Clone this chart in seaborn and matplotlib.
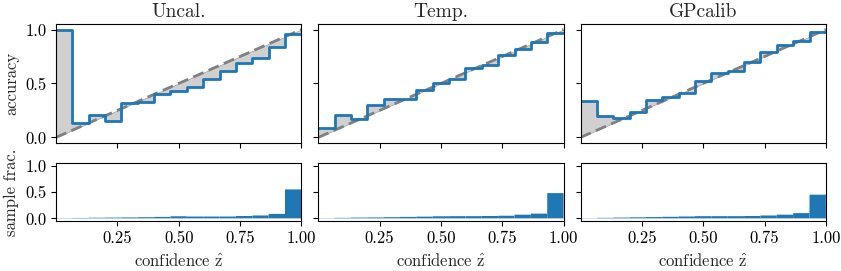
import matplotlib
matplotlib.use("Agg")
import matplotlib.pyplot as plt
import seaborn as sns
import numpy as np
import pandas as pd

# 15 equal-width confidence bins
bin_edges = np.linspace(0, 1, 16)
methods = ["Uncal.", "Temp.", "GPcalib"]

# accuracy per bin
acc_uncal = [1.00, 0.13, 0.21, 0.15, 0.32, 0.33, 0.40, 0.43, 0.47, 0.54, 0.62, 0.69, 0.74, 0.84, 0.96]
acc_temp = [0.09, 0.21, 0.175, 0.30, 0.36, 0.355, 0.44, 0.50, 0.54, 0.64, 0.67, 0.76, 0.82, 0.88, 0.97]
acc_gp = [0.335, 0.195, 0.18, 0.235, 0.35, 0.37, 0.41, 0.52, 0.595, 0.62, 0.70, 0.79, 0.855, 0.895, 0.98]

# fraction of samples per bin
frac_uncal = [0.004, 0.008, 0.012, 0.015, 0.018, 0.022, 0.028, 0.04, 0.035, 0.035, 0.035, 0.045, 0.055, 0.085, 0.55]
frac_temp = [0.004, 0.01, 0.015, 0.018, 0.022, 0.028, 0.033, 0.04, 0.042, 0.042, 0.045, 0.05, 0.07, 0.09, 0.48]
frac_gp = [0.004, 0.01, 0.015, 0.02, 0.025, 0.03, 0.036, 0.042, 0.042, 0.042, 0.045, 0.055, 0.07, 0.1, 0.45]

accs = [acc_uncal, acc_temp, acc_gp]
fracs = [frac_uncal, frac_temp, frac_gp]

sns.set_style("ticks")
plt.rcParams["font.family"] = ["cmr10", "DejaVu Serif"]
plt.rcParams["mathtext.fontset"] = "cm"
plt.rcParams["axes.formatter.use_mathtext"] = True
plt.rcParams["font.size"] = 12
plt.rcParams["axes.edgecolor"] = "black"
plt.rcParams["xtick.color"] = "black"
plt.rcParams["ytick.color"] = "black"

fig, axes = plt.subplots(2, 3, figsize=(8.41, 2.71), dpi=100, sharex=True, sharey="row",
                         gridspec_kw=dict(height_ratios=[2.05, 1], left=0.0666, right=0.982,
                                          top=0.911, bottom=0.1845, wspace=0.069, hspace=0.23))

centers = (bin_edges[:-1] + bin_edges[1:]) / 2
blue = "#1f77b4"

for j, name in enumerate(methods):
    ax = axes[0, j]
    acc = np.array(accs[j])
    # gap between bin accuracy and the diagonal
    xs = np.repeat(bin_edges, 2)[1:-1]
    ys = np.repeat(acc, 2)
    ax.fill_between(xs, ys, xs, facecolor="#d0d0d0", edgecolor="#a0a0a0", linewidth=0.5)
    ax.plot([0, 1], [0, 1], ls="--", color="gray", lw=2, dashes=(4, 2))
    sns.lineplot(x=bin_edges, y=np.append(acc, acc[-1]), drawstyle="steps-post",
                 color=blue, lw=2, ax=ax)
    ax.set_title(name, fontsize=14, pad=5)
    ax.set_xlim(0, 1)
    ax.set_ylim(-0.05, 1.05)
    ax.set_yticks([0, 0.5, 1.0])

    bx = axes[1, j]
    hist_df = pd.DataFrame({"conf": centers, "frac": fracs[j]})
    sns.histplot(data=hist_df, x="conf", weights="frac", bins=list(bin_edges), color=blue,
                 alpha=1, edgecolor="none", linewidth=0, snap=False, ax=bx)
    bx.set_ylim(-0.05, 1.05)
    bx.set_yticks([0, 0.5, 1.0])
    bx.set_xticks([0.25, 0.5, 0.75, 1.0])
    bx.set_xticklabels(["0.25", "0.50", "0.75", "1.00"])
    bx.set_xlabel(r"confidence $\hat{\mathrm{z}}$")
    bx.set_ylabel("")
    ax.set_ylabel("")

axes[0, 0].set_yticklabels(["0.0", "0.5", "1.0"])
axes[1, 0].set_yticklabels(["0.0", "0.5", "1.0"])
axes[0, 0].set_ylabel("accuracy")
axes[1, 0].set_ylabel("sample frac.")

fig.savefig("out.png", dpi=100)
